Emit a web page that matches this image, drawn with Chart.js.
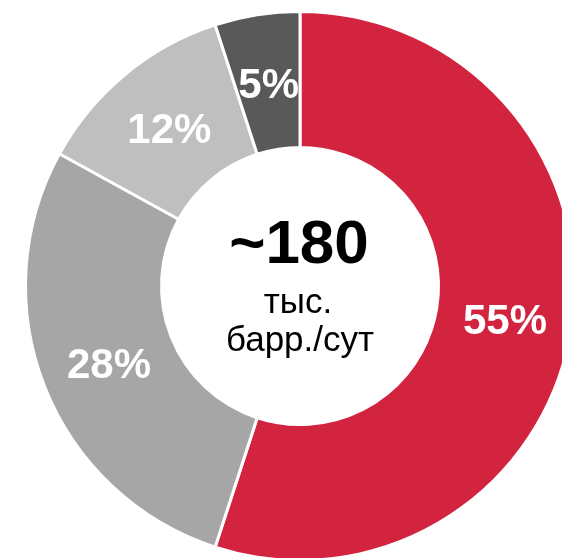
<!DOCTYPE html>
<html>
<head>
<meta charset="utf-8">
<script src="https://cdn.jsdelivr.net/npm/chart.js@4"></script>
<style>
  html, body { margin: 0; padding: 0; background: #fff; overflow: hidden; width: 562px; height: 558px; }
  #wrap { position: absolute; left: 0; top: 0; width: 600px; height: 572px; }
</style>
</head>
<body>
<div id="wrap"><canvas id="c" width="600" height="572"></canvas></div>
<script>
const categories = ['A', 'B', 'C', 'D'];
const shares = [55, 28, 12, 5];
const sliceLabels = ['55%', '28%', '12%', '5%'];
const sliceColors = ['#D2233F', '#A6A6A6', '#BFBFBF', '#595959'];
const centerLines = ['~180', 'тыс.', 'барр./сут'];

const labelPlugin = {
  id: 'sliceLabels',
  afterDatasetsDraw(chart) {
    const ctx = chart.ctx;
    const meta = chart.getDatasetMeta(0);
    ctx.save();
    ctx.fillStyle = '#ffffff';
    ctx.textAlign = 'center';
    ctx.textBaseline = 'alphabetic';
    ctx.font = 'bold 42px "Liberation Sans", Arial, sans-serif';
    meta.data.forEach((arc, i) => {
      const p = arc.tooltipPosition();
      ctx.fillText(sliceLabels[i], p.x + 1, p.y + 16);
    });
    // center text
    const a = meta.data[0];
    const cx = a.x, cy = a.y;
    ctx.fillStyle = '#000000';
    ctx.font = 'bold 62px "Liberation Sans", Arial, sans-serif';
    ctx.fillText(centerLines[0], cx - 1, cy - 23);
    ctx.font = '35px "Liberation Sans", Arial, sans-serif';
    ctx.fillText(centerLines[1], cx - 2, cy + 27);
    ctx.fillText(centerLines[2], cx, cy + 65);
    ctx.restore();
  }
};

new Chart(document.getElementById('c'), {
  type: 'doughnut',
  data: {
    labels: categories,
    datasets: [{
      data: shares,
      backgroundColor: sliceColors,
      borderColor: '#ffffff',
      borderWidth: 3,
      hoverOffset: 0
    }]
  },
  options: {
    responsive: false,
    animation: false,
    cutout: '50.45%',
    layout: { padding: 10 },
    plugins: {
      legend: { display: false },
      tooltip: { enabled: false }
    }
  },
  plugins: [labelPlugin]
});
</script>
</body>
</html>
